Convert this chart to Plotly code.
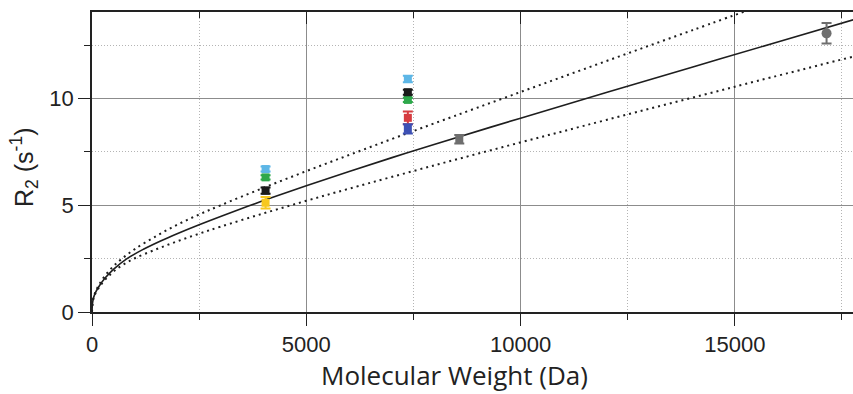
import plotly.graph_objects as go

# ---------------- data ----------------
# fitted curve (solid) and confidence bounds (dotted); molecular weight in Da
fit_mw = [0, 10, 30, 70, 150, 300, 500, 800, 1200, 1600, 2000, 2500, 3000, 4000,
          5000, 6000, 7000, 8000, 10000, 12000, 14000, 16000, 17760]
fit_r2 = [0, 0.38, 0.62, 0.86, 1.16, 1.58, 2.0, 2.48, 2.94, 3.33, 3.68, 4.09, 4.48, 5.22,
          5.92, 6.59, 7.235, 7.865, 9.085, 10.285, 11.475, 12.655, 13.69]

upper_mw = [0, 10, 30, 70, 150, 300, 500, 700, 1000, 1500, 2000, 2500, 3000, 4000,
            5000, 6000, 7000, 8000, 10000, 12000, 14000, 16000]
upper_r2 = [0, 0.38, 0.63, 0.89, 1.225, 1.69, 2.15, 2.5, 2.95, 3.56, 4.1, 4.57, 5.0, 5.82,
            6.6, 7.36, 8.11, 8.85, 10.31, 11.76, 13.2, 14.64]

lower_mw = [0, 10, 30, 70, 150, 300, 500, 700, 1000, 1500, 2000, 2500, 3000, 4000,
            5000, 6000, 8000, 10000, 12000, 15000, 17760]
lower_r2 = [0, 0.37, 0.6, 0.83, 1.11, 1.5, 1.89, 2.18, 2.52, 2.94, 3.32, 3.67, 4.0, 4.62,
            5.21, 5.78, 6.88, 7.95, 9.0, 10.56, 11.97]

# measured points: molecular weight, R2, error
lightblue_mw = [4050, 7370]; lightblue_r2 = [6.70, 10.92]; lightblue_err = [0.12, 0.15]
green_mw = [4050, 7370];     green_r2 = [6.31, 9.94];      green_err = [0.10, 0.10]
black_mw = [4050, 7370];     black_r2 = [5.69, 10.30];     black_err = [0.15, 0.12]
yellow_mw = [4050];          yellow_r2 = [5.12];           yellow_err = [0.27]
red_mw = [7370];             red_r2 = [9.10];              red_err = [0.30]
blue_mw = [7370];            blue_r2 = [8.58];             blue_err = [0.22]
gray_mw = [8570];            gray_r2 = [8.10];             gray_err = [0.20]
gray2_mw = [17140];          gray2_r2 = [13.06];           gray2_err = [0.48]

x_ticks = [0, 5000, 10000, 15000]
y_ticks = [0, 5, 10]

# ---------------- figure ----------------
fig = go.Figure()

DOT = "2px,4px"
fig.add_trace(go.Scatter(x=upper_mw, y=upper_r2, mode="lines", line_shape="spline",
                         line=dict(color="#1e1e1e", width=2, dash=DOT), showlegend=False))
fig.add_trace(go.Scatter(x=lower_mw, y=lower_r2, mode="lines", line_shape="spline",
                         line=dict(color="#1e1e1e", width=2, dash=DOT), showlegend=False))
fig.add_trace(go.Scatter(x=fit_mw, y=fit_r2, mode="lines", line_shape="spline",
                         line=dict(color="#1e1e1e", width=1.6), showlegend=False))


def pts(xs, ys, es, color, symbol="square", size=8):
    fig.add_trace(go.Scatter(
        x=xs, y=ys, mode="markers", showlegend=False,
        marker=dict(symbol=symbol, size=size, color=color, line=dict(width=0)),
        error_y=dict(type="data", array=es, visible=True, color=color,
                     thickness=2, width=5)))


pts(gray_mw, gray_r2, gray_err, "#6e6e6e")
pts(gray2_mw, gray2_r2, gray2_err, "#6e6e6e", symbol="circle", size=10)
pts(yellow_mw, yellow_r2, yellow_err, "#F7C81E")
pts(red_mw, red_r2, red_err, "#D63B3F")
pts(blue_mw, blue_r2, blue_err, "#3D50B4")
pts(green_mw, green_r2, green_err, "#2EA84B")
pts(black_mw, black_r2, black_err, "#1a1a1a")
pts(lightblue_mw, lightblue_r2, lightblue_err, "#5DB6E6")

# invisible trace to get a top axis with inside ticks
fig.add_trace(go.Scatter(x=[None], y=[None], xaxis="x2", yaxis="y",
                         mode="markers", showlegend=False, hoverinfo="skip"))

XMAX = 17757
YMAX = 14.06
GRIDDOT = "1px,2px"

tickfont = dict(family="Liberation Sans, Arial, sans-serif", size=22, color="#222")

fig.update_layout(
    width=853, height=394,
    margin=dict(l=92, r=0, t=12, b=82),
    paper_bgcolor="white", plot_bgcolor="white",
    xaxis=dict(range=[0, XMAX], tickvals=x_ticks, ticktext=[str(v) for v in x_ticks],
               ticks="outside", ticklen=12, tickwidth=1.2, tickcolor="#222",
               showline=True, linecolor="#222", linewidth=1.5, mirror=True,
               showgrid=True, gridcolor="#8c8c8c", gridwidth=1,
               zeroline=False, tickfont=tickfont,
               minor=dict(dtick=2500, tick0=0, ticks="outside", ticklen=6,
                          tickcolor="#222", tickwidth=1.2, showgrid=True,
                          gridcolor="#b4b4b4", griddash=GRIDDOT, gridwidth=1)),
    xaxis2=dict(range=[0, XMAX], overlaying="x", side="top", tickvals=x_ticks,
                showticklabels=False, ticks="inside", ticklen=12, tickwidth=1.2,
                tickcolor="#222", showgrid=False, showline=False, zeroline=False,
                minor=dict(dtick=2500, tick0=0, ticks="inside", ticklen=6,
                           tickcolor="#222", tickwidth=1.2, showgrid=False)),
    yaxis=dict(range=[0, YMAX], tickvals=y_ticks, ticktext=[str(v) for v in y_ticks],
               ticks="outside", ticklen=12, tickwidth=1.2, tickcolor="#222",
               showline=True, linecolor="#222", linewidth=1.5, mirror=False,
               showgrid=True, gridcolor="#8c8c8c", gridwidth=1,
               zeroline=False, tickfont=tickfont,
               minor=dict(dtick=2.5, tick0=0, ticks="outside", ticklen=6,
                          tickcolor="#222", tickwidth=1.2, showgrid=True,
                          gridcolor="#b4b4b4", griddash=GRIDDOT, gridwidth=1)),
    annotations=[
        dict(text="Molecular Weight (Da)", xref="paper", yref="paper",
             x=(454 - 92) / 761, y=-82 / 300, xanchor="center", yanchor="bottom",
             borderpad=0, showarrow=False,
             font=dict(family="Open Sans, sans-serif", size=26, color="#222")),
        dict(text="R<sub>2</sub> (s<sup>-1</sup>)", xref="paper", yref="paper",
             x=(24 - 92) / 761, y=(312 - 168) / 300, xanchor="center", yanchor="middle",
             textangle=-90, showarrow=False,
             font=dict(family="Liberation Sans, Arial, sans-serif", size=25, color="#222")),
    ],
)

fig.write_html("out.html")
